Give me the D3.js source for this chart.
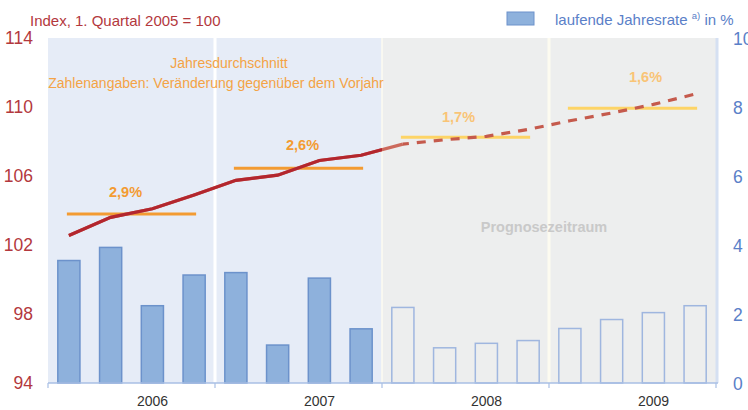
<!DOCTYPE html>
<html>
<head>
<meta charset="utf-8">
<script src="https://cdn.jsdelivr.net/npm/d3@7"></script>
<style>
  body { margin: 0; background: #fff; }
  svg { font-family: "Liberation Sans", Arial, sans-serif; }
</style>
</head>
<body>
<svg id="chart" width="748" height="410"></svg>
<script>
// quarters 2006 Q1 .. 2009 Q4
let years = ["2006", "2007", "2008", "2009"];
let quarters = [];
years.forEach(function(y){ for (let q = 1; q <= 4; q++) quarters.push(y + "Q" + q); });

// index, 1. Quartal 2005 = 100 (left axis)
let indexValues = [102.55, 103.6, 104.1, 104.9, 105.75, 106.05, 106.9, 107.2,
                   107.85, 108.1, 108.3, 108.7, 109.2, 109.65, 110.15, 110.75];
// laufende Jahresrate in % (right axis)
let rateValues = [3.55, 3.93, 2.24, 3.13, 3.2, 1.1, 3.04, 1.57,
                  2.19, 1.02, 1.15, 1.23, 1.58, 1.84, 2.04, 2.24];
// Jahresdurchschnitt (left axis) and its label
let avgValues = [103.8, 106.45, 108.25, 109.93];
let avgLabels = ["2,9%", "2,6%", "1,7%", "1,6%"];
let forecastFrom = "2008Q1";

let leftTicks = [94, 98, 102, 106, 110, 114];
let rightTicks = [0, 2, 4, 6, 8, 10];

// layout
let margin = {top: 38, right: 32, bottom: 27, left: 48};
let width = 748 - margin.left - margin.right;
let height = 410 - margin.top - margin.bottom;

let svg = d3.select("#chart");
let main = svg.append("g")
    .attr("transform", "translate(" + margin.left + "," + margin.top + ")");

let xq = d3.scaleBand().domain(quarters).range([0, width]);
let xy = d3.scaleBand().domain(years).range([0, width]);
let yl = d3.scaleLinear().domain([94, 114]).range([height, 0]);
let yr = d3.scaleLinear().domain([0, 10]).range([height, 0]);

let cx = function(q){ return xq(q) + xq.bandwidth() / 2; };
let splitX = xq(forecastFrom);

// backgrounds
main.append("rect").attr("x", 0).attr("y", 0)
    .attr("width", splitX).attr("height", height).attr("fill", "#e6ecf7");
main.append("rect").attr("x", splitX).attr("y", 0)
    .attr("width", width - splitX).attr("height", height).attr("fill", "#edeeee");

// year separators
years.slice(1).forEach(function(y){
    let forecast = xy(y) >= splitX;
    main.append("line")
        .attr("x1", xy(y)).attr("x2", xy(y))
        .attr("y1", 0).attr("y2", height)
        .attr("stroke", forecast ? "#fdfbf0" : "#ffffff")
        .attr("stroke-width", xy(y) == splitX ? 1.5 : 3);
});

// right axis line
main.append("line").attr("x1", width + 1).attr("x2", width + 1)
    .attr("y1", 0).attr("y2", height)
    .attr("stroke", "#d5e0f2").attr("stroke-width", 3);

// bars
let barW = xq.bandwidth() * 0.53;
main.append("g").selectAll("rect")
    .data(quarters)
    .enter().append("rect")
    .attr("x", function(d){ return cx(d) - barW / 2; })
    .attr("y", function(d, i){ return yr(rateValues[i]); })
    .attr("width", barW)
    .attr("height", function(d, i){ return height - yr(rateValues[i]); })
    .attr("fill", function(d){ return xq(d) >= splitX ? "none" : "#8eb1dc"; })
    .attr("stroke", function(d){ return xq(d) >= splitX ? "#9fb6df" : "#6c92cb"; })
    .attr("stroke-width", 1.5);

// x axis
main.append("line").attr("x1", 0).attr("x2", width + 2)
    .attr("y1", height).attr("y2", height)
    .attr("stroke", "#a8bfe4").attr("stroke-width", 1.5);
years.concat(["end"]).forEach(function(y){
    let x = y == "end" ? width : xy(y);
    main.append("line").attr("x1", x).attr("x2", x)
        .attr("y1", height).attr("y2", height + 5)
        .attr("stroke", "#a8bfe4").attr("stroke-width", 1.2);
});
main.append("g").selectAll("text")
    .data(years)
    .enter().append("text")
    .attr("x", function(d){ return xy(d) + xy.bandwidth() / 2 + 21; })
    .attr("y", height + 23)
    .attr("text-anchor", "middle")
    .attr("font-size", 14)
    .attr("fill", "#333")
    .text(function(d){ return d; });

// left ticks
main.append("g").selectAll("text")
    .data(leftTicks)
    .enter().append("text")
    .attr("x", -15).attr("y", function(d){ return yl(d) + 6; })
    .attr("text-anchor", "end")
    .attr("font-size", 17.5).attr("fill", "#b3383d")
    .text(function(d){ return d; });

// right ticks
main.append("g").selectAll("text")
    .data(rightTicks)
    .enter().append("text")
    .attr("x", width + 17).attr("y", function(d){ return yr(d) + 6.5; })
    .attr("font-size", 17.5).attr("fill", "#5a80c8")
    .text(function(d){ return d; });

// average lines
let avgDx = [-6, 4, -7, 13];
let avgDy = [-17, -18, -15, -26];
years.forEach(function(y, i){
    let forecast = xy(y) >= splitX;
    let x0 = cx(y + "Q1") - 2, x1 = cx(y + "Q4") + 2;
    main.append("line")
        .attr("x1", x0).attr("x2", x1)
        .attr("y1", yl(avgValues[i])).attr("y2", yl(avgValues[i]))
        .attr("stroke", forecast ? "#fdd466" : "#f39b32")
        .attr("stroke-width", 3);
    main.append("text")
        .attr("x", xy(y) + xy.bandwidth() / 2 + avgDx[i])
        .attr("y", yl(avgValues[i]) + avgDy[i])
        .attr("text-anchor", "middle")
        .attr("font-size", 14.5).attr("font-weight", "bold")
        .attr("fill", forecast ? "#f9c476" : "#f39b32")
        .text(avgLabels[i]);
});

// index line
let line = d3.line()
    .x(function(d){ return cx(d.q); })
    .y(function(d){ return yl(d.v); });
let pts = quarters.map(function(q, i){ return {q: q, v: indexValues[i]}; });
let fi = quarters.indexOf(forecastFrom);

svg.append("defs").append("clipPath").attr("id", "past")
    .append("rect").attr("x", -10).attr("y", -40).attr("width", splitX + 10).attr("height", height + 80);

main.append("path").datum(pts.slice(0, fi + 1))
    .attr("d", line).attr("fill", "none")
    .attr("stroke", "#cc6a5c").attr("stroke-width", 3.2);
main.append("path").datum(pts.slice(0, fi + 1))
    .attr("d", line).attr("fill", "none")
    .attr("clip-path", "url(#past)")
    .attr("stroke", "#b3262e").attr("stroke-width", 3.2);
main.append("path").datum(pts.slice(fi))
    .attr("d", line).attr("fill", "none")
    .attr("stroke", "#c55a4c").attr("stroke-width", 3.2)
    .attr("stroke-dasharray", "9,8")
    .attr("stroke-dashoffset", -14);

// notes
main.append("text").attr("x", 181).attr("y", 30)
    .attr("text-anchor", "middle").attr("font-size", 14).attr("fill", "#f4a345")
    .text("Jahresdurchschnitt");
main.append("text").attr("x", 168).attr("y", 50)
    .attr("text-anchor", "middle").attr("font-size", 14).attr("fill", "#f4a345")
    .text("Zahlenangaben: Veränderung gegenüber dem Vorjahr");
main.append("text").attr("x", 496).attr("y", 194)
    .attr("text-anchor", "middle").attr("font-size", 14.5).attr("font-weight", "bold")
    .attr("fill", "#c9c9c9")
    .text("Prognosezeitraum");

// title
svg.append("text").attr("x", 30).attr("y", 26)
    .attr("font-size", 15).attr("fill", "#b3383d")
    .text("Index, 1. Quartal 2005 = 100");

// legend
svg.append("rect").attr("x", 507).attr("y", 12).attr("width", 27).attr("height", 13)
    .attr("fill", "#8eb1dc").attr("stroke", "#6c92cb").attr("stroke-width", 1);
let leg = svg.append("text").attr("x", 555).attr("y", 25)
    .attr("font-size", 15).attr("fill", "#5a80c8");
leg.append("tspan").text("laufende Jahresrate ");
leg.append("tspan").attr("font-size", 9.5).attr("dy", -6).text("a)");
leg.append("tspan").attr("dy", 6).text(" in %");
</script>
</body>
</html>
